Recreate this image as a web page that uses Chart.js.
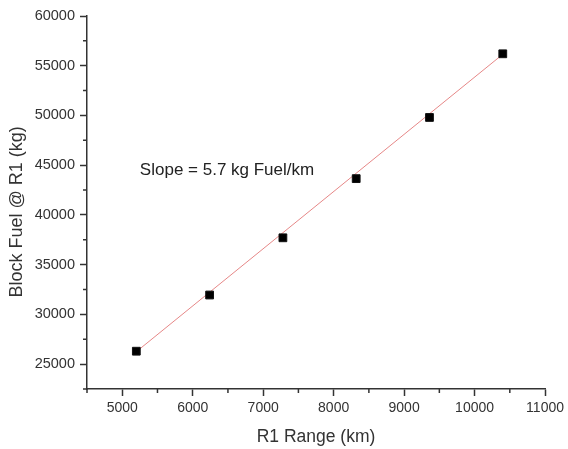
<!DOCTYPE html>
<html>
<head>
<meta charset="utf-8">
<script src="https://cdn.jsdelivr.net/npm/chart.js@4/dist/chart.umd.min.js"></script>
<style>
  html, body { margin: 0; padding: 0; background: #fff; }
  #wrap { width: 568px; height: 449px; }
</style>
</head>
<body>
<div id="wrap"><canvas id="fuelChart" width="568" height="449"></canvas></div>
<script>
// data
const rangeKm = [5200, 6240, 7280, 8320, 9360, 10400];
const blockFuel = [26300, 31950, 37700, 43650, 49800, 56200];
// linear fit, drawn end to end
const fitRange = [5200, 10400];
const fitFuel = [26250, 56150];
const slopeText = 'Slope = 5.7 kg Fuel/km';
const slopeAt = { x: 5250, y: 44500 };
const yTitle = 'Block Fuel @ R1 (kg)';
const yTitleAt = 40300; // the title sits a bit below the axis middle

const FONT = 'Arial, "Liberation Sans", sans-serif';
const AXIS = '#333';

// short minor ticks, slope note and the y title
const extras = {
  id: 'extras',
  afterDraw(chart){
    const ctx = chart.ctx;
    const xs = chart.scales.x, ys = chart.scales.y;
    ctx.save();
    ctx.strokeStyle = AXIS;
    ctx.lineWidth = 1.5;
    ctx.beginPath();
    xs.ticks.forEach(t => {
      if (t.value % 1000 === 0) return;
      const px = xs.getPixelForValue(t.value);
      ctx.moveTo(px, xs.top); ctx.lineTo(px, xs.top + 4);
    });
    ys.ticks.forEach(t => {
      if (t.value % 5000 === 0) return;
      const py = ys.getPixelForValue(t.value);
      ctx.moveTo(ys.right, py); ctx.lineTo(ys.right - 4, py);
    });
    ctx.stroke();

    ctx.fillStyle = '#222';
    ctx.font = '17px ' + FONT;
    ctx.textAlign = 'left';
    ctx.textBaseline = 'middle';
    ctx.fillText(slopeText, xs.getPixelForValue(slopeAt.x), ys.getPixelForValue(slopeAt.y));

    ctx.fillStyle = '#333';
    ctx.font = '18px ' + FONT;
    ctx.textAlign = 'center';
    ctx.translate(17, ys.getPixelForValue(yTitleAt));
    ctx.rotate(-Math.PI / 2);
    ctx.fillText(yTitle, 0, 0);
    ctx.restore();
  }
};

const pts = rangeKm.map((x, i) => ({ x, y: blockFuel[i] }));
const fit = fitRange.map((x, i) => ({ x, y: fitFuel[i] }));

new Chart(document.getElementById('fuelChart'), {
  type: 'scatter',
  data: {
    datasets: [
      {
        label: 'fit',
        data: fit,
        showLine: true,
        borderColor: 'rgb(230,135,135)',
        borderWidth: 1,
        pointRadius: 0,
        order: 2
      },
      {
        label: 'Block Fuel',
        data: pts,
        pointStyle: 'rect',
        pointRadius: 5.5,
        backgroundColor: '#000',
        borderColor: '#111',
        borderWidth: 1,
        order: 1
      }
    ]
  },
  options: {
    responsive: false,
    devicePixelRatio: 1,
    animation: false,
    layout: { padding: { left: 0, top: 16, right: 21, bottom: 0 } },
    plugins: { legend: { display: false }, tooltip: { enabled: false } },
    scales: {
      x: {
        type: 'linear',
        min: 4500, max: 11000,
        afterFit(s){ s.height = 60; },
        border: { color: AXIS, width: 1.5 },
        grid: {
          drawOnChartArea: false,
          tickLength: 7,
          tickWidth: 1.5,
          tickColor: c => (c.tick && c.tick.value % 1000 === 0) ? AXIS : 'rgba(0,0,0,0)'
        },
        ticks: {
          stepSize: 500,
          autoSkip: false,
          maxRotation: 0,
          padding: 4,
          color: '#333',
          font: { family: FONT, size: 14 },
          callback: v => v % 1000 === 0 ? String(v) : ''
        },
        title: {
          display: true,
          text: 'R1 Range (km)',
          color: '#333',
          font: { family: FONT, size: 17.5 },
          padding: { top: 0, bottom: 1 }
        }
      },
      y: {
        type: 'linear',
        min: 22500, max: 60000,
        afterFit(s){ s.width = 87; },
        border: { color: AXIS, width: 1.5 },
        grid: {
          drawOnChartArea: false,
          tickLength: 7,
          tickWidth: 1.5,
          tickColor: c => (c.tick && c.tick.value % 5000 === 0) ? AXIS : 'rgba(0,0,0,0)'
        },
        ticks: {
          stepSize: 2500,
          autoSkip: false,
          padding: 5,
          color: '#333',
          font: { family: FONT, size: 14.5 },
          callback: v => v % 5000 === 0 ? String(v) : ''
        },
        title: { display: false }
      }
    }
  },
  plugins: [extras]
});
</script>
</body>
</html>
